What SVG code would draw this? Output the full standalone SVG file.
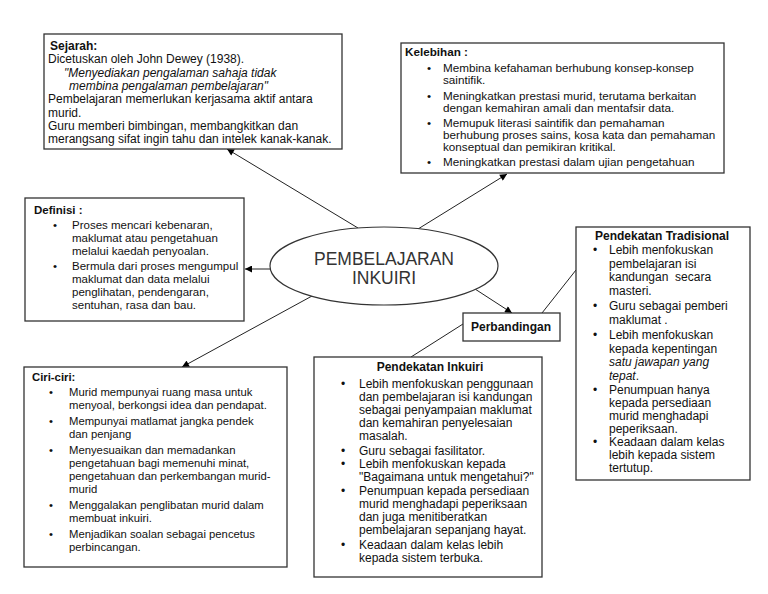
<svg xmlns="http://www.w3.org/2000/svg" width="768" height="594" viewBox="0 0 768 594">
<style>
text{font-family:"Liberation Sans",Arial,sans-serif;fill:#111;white-space:pre}
.box{fill:#fff;stroke:#333;stroke-width:1.3}
.t{font-weight:bold}
.i{font-style:italic}
.s12{font-size:12px}
.s117{font-size:11.7px}
.s115{font-size:11.5px}
.s113{font-size:11.3px}
.c{text-anchor:middle}
.ln{stroke:#222;stroke-width:1;fill:none}
.ar{marker-end:url(#ah)}
</style>
<defs>
<marker id="ah" viewBox="0 0 10 10" refX="10" refY="5" markerWidth="8" markerHeight="7" orient="auto" markerUnits="userSpaceOnUse">
<path d="M0,0 L10,5 L0,10 z" fill="#000"/>
</marker>
</defs>
<rect width="768" height="594" fill="#fff"/>

<g id="connectors">
<line class="ln ar" x1="358" y1="228" x2="227" y2="149"/>
<line class="ln ar" x1="418" y1="229" x2="507" y2="174"/>
<line class="ln ar" x1="271" y1="269" x2="245" y2="269"/>
<line class="ln ar" x1="312" y1="296" x2="182" y2="367"/>
<line class="ln ar" x1="475" y1="289" x2="512" y2="313"/>
<line class="ln" x1="542" y1="313" x2="576" y2="270"/>
<line class="ln" x1="463" y1="324" x2="411" y2="357"/>
</g>

<g id="node-sejarah" class="s12">
<rect class="box" x="44" y="34" width="298" height="115"/>
<text class="t" x="50" y="49.5">Sejarah:</text>
<text x="48" y="63">Dicetuskan oleh John Dewey (1938).</text>
<text class="i" x="64" y="76.5">"Menyediakan pengalaman sahaja tidak</text>
<text class="i" x="69" y="90">membina pengalaman pembelajaran"</text>
<text x="48" y="103">Pembelajaran memerlukan kerjasama aktif antara</text>
<text x="48" y="116.5">murid.</text>
<text x="48" y="130">Guru memberi bimbingan, membangkitkan dan</text>
<text x="48" y="143">merangsang sifat ingin tahu dan intelek kanak-kanak.</text>
</g>

<g id="node-kelebihan" class="s117">
<rect class="box" x="401" y="43" width="323" height="130"/>
<text class="t" x="405" y="56">Kelebihan :</text>
<text x="427" y="72">•</text>
<text x="443" y="72">Membina kefahaman berhubung konsep-konsep</text>
<text x="443" y="84">saintifik.</text>
<text x="427" y="100">•</text>
<text x="443" y="100">Meningkatkan prestasi murid, terutama berkaitan</text>
<text x="443" y="112">dengan kemahiran amali dan mentafsir data.</text>
<text x="427" y="127">•</text>
<text x="443" y="127">Memupuk literasi saintifik dan pemahaman</text>
<text x="443" y="139">berhubung proses sains, kosa kata dan pemahaman</text>
<text x="443" y="151">konseptual dan pemikiran kritikal.</text>
<text x="427" y="166">•</text>
<text x="443" y="166">Meningkatkan prestasi dalam ujian pengetahuan</text>
</g>

<g id="node-definisi" class="s115">
<rect class="box" x="25" y="198" width="219" height="123"/>
<text class="t" x="34" y="214">Definisi :</text>
<text x="53" y="229">•</text>
<text x="72" y="229">Proses mencari kebenaran,</text>
<text x="72" y="242">maklumat atau pengetahuan</text>
<text x="72" y="255">melalui kaedah penyoalan.</text>
<text x="53" y="270">•</text>
<text x="72" y="270">Bermula dari proses mengumpul</text>
<text x="72" y="283">maklumat dan data melalui</text>
<text x="72" y="296">penglihatan, pendengaran,</text>
<text x="72" y="309">sentuhan, rasa dan bau.</text>
</g>

<g id="node-center">
<ellipse cx="384" cy="266" rx="114" ry="39" fill="#fff" stroke="#333" stroke-width="1.2"/>
<text class="c" x="384" y="265" style="font-size:17.5px;fill:#333">PEMBELAJARAN</text>
<text class="c" x="384" y="284" style="font-size:17.5px;fill:#333">INKUIRI</text>
</g>

<g id="node-perbandingan" class="s12">
<rect class="box" x="463" y="313" width="97" height="28"/>
<text class="t c" x="511" y="331">Perbandingan</text>
</g>

<g id="node-tradisional" class="s12">
<rect class="box" x="576" y="227" width="174" height="253"/>
<text class="t c" x="662" y="240">Pendekatan Tradisional</text>
<text x="593" y="254">•</text>
<text x="609" y="254">Lebih menfokuskan</text>
<text x="609" y="267.5">pembelajaran isi</text>
<text x="609" y="281">kandungan  secara</text>
<text x="609" y="294.5">masteri.</text>
<text x="593" y="310">•</text>
<text x="609" y="310">Guru sebagai pemberi</text>
<text x="609" y="323.5">maklumat .</text>
<text x="593" y="339">•</text>
<text x="609" y="339">Lebih menfokuskan</text>
<text x="609" y="352.5">kepada kepentingan</text>
<text class="i" x="609" y="366">satu jawapan yang</text>
<text x="609" y="379.5"><tspan class="i">tepat</tspan>.</text>
<text x="593" y="393.5">•</text>
<text x="609" y="393.5">Penumpuan hanya</text>
<text x="609" y="406.5">kepada persediaan</text>
<text x="609" y="419.5">murid menghadapi</text>
<text x="609" y="432.5">peperiksaan.</text>
<text x="593" y="446">•</text>
<text x="609" y="446">Keadaan dalam kelas</text>
<text x="609" y="459">lebih kepada sistem</text>
<text x="609" y="472">tertutup.</text>
</g>

<g id="node-inkuiri" class="s12">
<rect class="box" x="314" y="357" width="228" height="220"/>
<text class="t c" x="430" y="371">Pendekatan Inkuiri</text>
<text x="341" y="388">•</text>
<text x="359" y="388">Lebih menfokuskan penggunaan</text>
<text x="359" y="401">dan pembelajaran isi kandungan</text>
<text x="359" y="414">sebagai penyampaian maklumat</text>
<text x="359" y="427">dan kemahiran penyelesaian</text>
<text x="359" y="440">masalah.</text>
<text x="341" y="455">•</text>
<text x="359" y="455">Guru sebagai fasilitator.</text>
<text x="341" y="468">•</text>
<text x="359" y="468">Lebih menfokuskan kepada</text>
<text x="359" y="481">"Bagaimana untuk mengetahui?"</text>
<text x="341" y="495">•</text>
<text x="359" y="495">Penumpuan kepada persediaan</text>
<text x="359" y="508">murid menghadapi peperiksaan</text>
<text x="359" y="521">dan juga menitiberatkan</text>
<text x="359" y="534">pembelajaran sepanjang hayat.</text>
<text x="341" y="549">•</text>
<text x="359" y="549">Keadaan dalam kelas lebih</text>
<text x="359" y="562">kepada sistem terbuka.</text>
</g>

<g id="node-ciri" class="s113">
<rect class="box" x="24" y="367" width="263" height="200"/>
<text class="t" x="32" y="381">Ciri-ciri:</text>
<text x="49" y="396">•</text>
<text x="69" y="396">Murid mempunyai ruang masa untuk</text>
<text x="69" y="409">menyoal, berkongsi idea dan pendapat.</text>
<text x="49" y="425">•</text>
<text x="69" y="425">Mempunyai matlamat jangka pendek</text>
<text x="69" y="438">dan penjang</text>
<text x="49" y="454">•</text>
<text x="69" y="454">Menyesuaikan dan memadankan</text>
<text x="69" y="467">pengetahuan bagi memenuhi minat,</text>
<text x="69" y="480">pengetahuan dan perkembangan murid-</text>
<text x="69" y="493">murid</text>
<text x="49" y="509">•</text>
<text x="69" y="509">Menggalakan penglibatan murid dalam</text>
<text x="69" y="522">membuat inkuiri.</text>
<text x="49" y="538">•</text>
<text x="69" y="538">Menjadikan soalan sebagai pencetus</text>
<text x="69" y="551">perbincangan.</text>
</g>
</svg>
